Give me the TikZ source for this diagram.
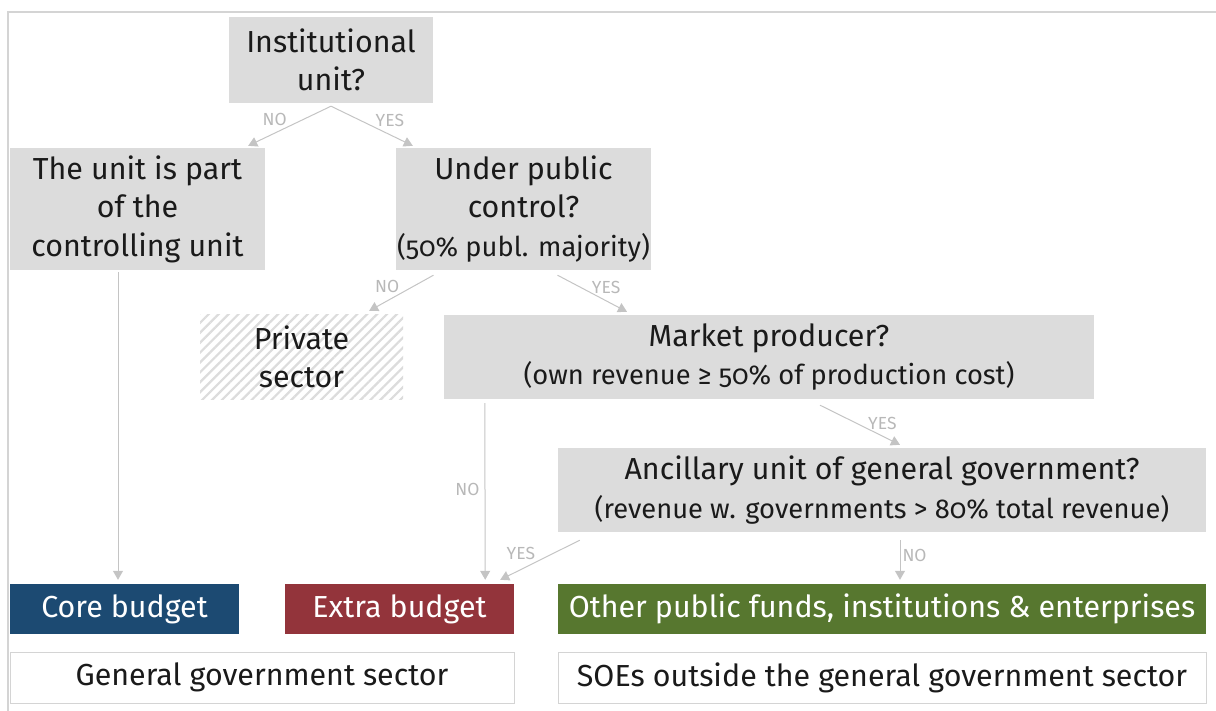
\documentclass[tikz,border=0pt]{standalone}
\usepackage{fontspec}
\setmainfont{Fira Sans}[RawFeature={+onum}]
\usetikzlibrary{arrows.meta,patterns.meta}
\definecolor{boxgray}{HTML}{DCDCDC}
\definecolor{arrgray}{HTML}{C4C4C4}
\definecolor{lblgray}{HTML}{B8B8B8}
\definecolor{framegray}{HTML}{D4D4D4}
\definecolor{coreblue}{HTML}{1C4A72}
\definecolor{extrared}{HTML}{93343B}
\definecolor{othergreen}{HTML}{57772F}
\definecolor{txtblack}{HTML}{1A1A1A}

\begin{document}
\begin{tikzpicture}[x=1pt,y=-1pt,
    every node/.style={inner sep=0pt, align=center, text=txtblack},
    big/.style={font=\fontsize{30.4}{38.5}\selectfont},
    qbox/.style={fill=boxgray, big},
    hatchbox/.style={pattern={Lines[angle=45,distance=7pt,line width=2.2pt]}, pattern color=boxgray, big},
    colbox/.style={fill=#1, text=white, big},
    sectbox/.style={draw=framegray, line width=1pt, fill=white, big},
    arr/.style={draw=arrgray, line width=1pt, -{Triangle[width=10pt,length=9pt]}},
    lbl/.style={text=lblgray, font=\fontsize{17.5}{19}\selectfont}]
  \useasboundingbox (0,0) rectangle (1216,711);
  \draw [framegray, line width=1.5pt] (8,711) -- (8,12) -- (1216,12);
  % questions
  \node [qbox, minimum width=204pt, minimum height=86pt] (inst) at (331,60) {Institutional\\unit?};
  \node [qbox, minimum width=255pt, minimum height=122pt] (part) at (137.5,209) {The unit is part\\of the\\controlling unit};
  \node [qbox, minimum width=255pt, minimum height=122pt] (ctrl) at (523.5,209) {Under public\\control?\\{\fontsize{27.3}{34}\selectfont (50\% publ. majority)}};
  \node [hatchbox, minimum width=203pt, minimum height=84pt] (priv) at (301.5,357) {Private\\sector};
  \node [qbox, minimum width=650pt, minimum height=84pt] (market) at (769,357) {Market producer?\\{\fontsize{27.3}{34}\selectfont (own revenue ≥ 50\% of production cost)}};
  \node [qbox, minimum width=648pt, minimum height=84pt] (ancil) at (882,490) {Ancillary unit of general government?\\{\fontsize{27.3}{34}\selectfont (revenue w. governments > 80\% total revenue)}};
  % results
  \node [colbox=coreblue, minimum width=229pt, minimum height=50pt] (core) at (124.5,609) {Core budget};
  \node [colbox=extrared, minimum width=229pt, minimum height=50pt] (extra) at (399.5,609) {Extra budget};
  \node [colbox=othergreen, minimum width=648pt, minimum height=50pt] (other) at (882,609) {Other public funds, institutions \& enterprises};
  \node [sectbox, minimum width=504pt, minimum height=51pt] (ggs) at (262,677.5) {General government sector};
  \node [sectbox, minimum width=648pt, minimum height=51pt] (soe) at (882,677.5) {SOEs outside the general government sector};
  % connectors
  \draw [arr] ([yshift=-3pt]inst.south) -- ([shift={(-17,-2)}]part.north east) node [lbl, pos=.68, above=7pt] {NO};
  \draw [arr] ([yshift=-3pt]inst.south) -- ([shift={(17,-2)}]ctrl.north west) node [lbl, pos=.72, above=7pt] {YES};
  \draw [arr] ([shift={(-90,5)}]ctrl.south) -- ([shift={(-35,-3)}]priv.north east) node [lbl, pos=.72, above=8pt] {NO};
  \draw [arr] ([shift={(34,5)}]ctrl.south) -- ([shift={(-142,-3)}]market.north) node [lbl, pos=.7, above=7pt] {YES};
  \draw [arr] ([shift={(-19.5,2)}]part.south) -- ([shift={(-6.5,-4)}]core.north);
  \draw [arr] ([shift={(41,4)}]market.south west) -- ([shift={(-29,-4)}]extra.north east) node [lbl, pos=.49, left=5pt] {NO};
  \draw [arr] ([shift={(51,6)}]market.south) -- ([shift={(18,-3)}]ancil.north) node [lbl, pos=.78, above=6pt] {YES};
  \draw [arr] ([shift={(22,8)}]ancil.south west) -- ([shift={(-14,-4)}]extra.north east) node [lbl, pos=.74, above=9pt] {YES};
  \draw [arr] ([shift={(18,8)}]ancil.south) -- ([shift={(18,-4)}]other.north) node [lbl, pos=.38, right=2pt] {NO};
\end{tikzpicture}
\end{document}
